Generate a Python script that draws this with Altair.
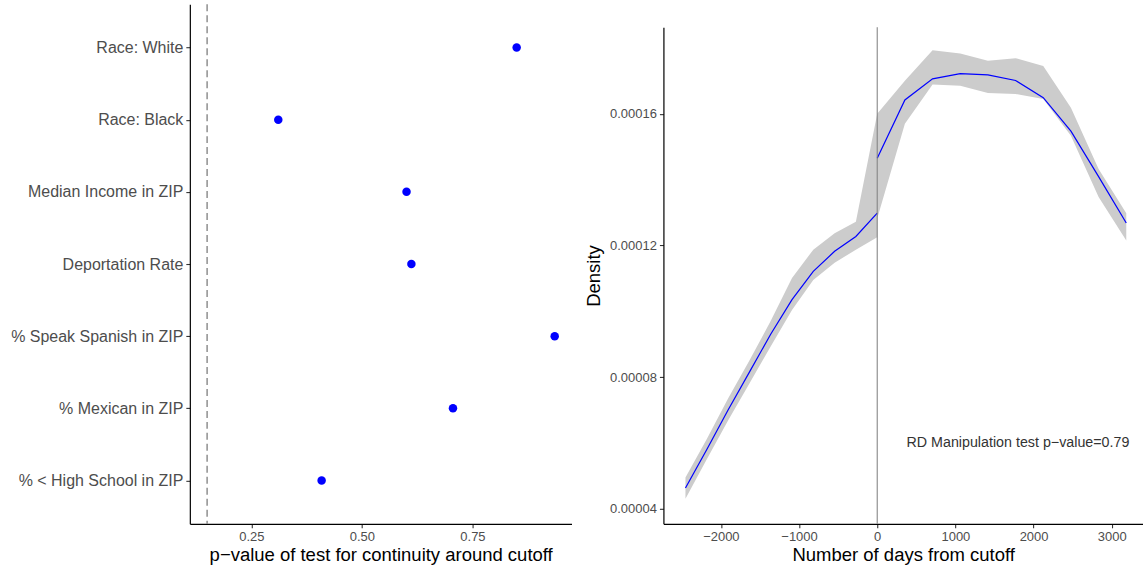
import altair as alt
import pandas as pd

# ---- Left panel data ----
labels = ["Race: White", "Race: Black", "Median Income in ZIP", "Deportation Rate",
          "% Speak Spanish in ZIP", "% Mexican in ZIP", "% < High School in ZIP"]
pvals = [0.850, 0.311, 0.601, 0.612, 0.936, 0.706, 0.409]
p_threshold = [0.15]
p_ticks = [0.25, 0.50, 0.75]

# ---- Right panel data ----
x_left = [-2453, -2180, -1908, -1635, -1363, -1090, -818, -545, -273, 0]
y_left = [4.63e-5, 5.80e-5, 7.00e-5, 8.15e-5, 9.30e-5, 1.035e-4, 1.121e-4, 1.182e-4, 1.227e-4, 1.298e-4]
lo_left = [4.30e-5, 5.50e-5, 6.68e-5, 7.80e-5, 8.93e-5, 1.004e-4, 1.095e-4, 1.147e-4, 1.187e-4, 1.225e-4]
hi_left = [4.95e-5, 6.12e-5, 7.35e-5, 8.50e-5, 9.70e-5, 1.101e-4, 1.187e-4, 1.237e-4, 1.272e-4, 1.600e-4]

x_right = [0, 354, 708, 1062, 1416, 1770, 2124, 2478, 2832, 3186]
y_right = [1.465e-4, 1.642e-4, 1.706e-4, 1.722e-4, 1.718e-4, 1.701e-4, 1.649e-4, 1.547e-4, 1.409e-4, 1.268e-4]
lo_right = [1.282e-4, 1.570e-4, 1.689e-4, 1.685e-4, 1.663e-4, 1.660e-4, 1.645e-4, 1.533e-4, 1.347e-4, 1.215e-4]
hi_right = [1.600e-4, 1.700e-4, 1.793e-4, 1.783e-4, 1.761e-4, 1.769e-4, 1.745e-4, 1.618e-4, 1.432e-4, 1.298e-4]

day_ticks = [-2000, -1000, 0, 1000, 2000, 3000]
density_ticks = [4e-5, 8e-5, 1.2e-4, 1.6e-4]
annotation = "RD Manipulation test p\u2212value=0.79"
ann_x, ann_y = [1800], [6.0e-5]

FONT = "Liberation Sans"

# ---- Left chart ----
left_df = pd.DataFrame({"label": labels, "p": pvals})
xs = alt.Scale(domain=[0.111, 0.974], nice=False, zero=False)

points = alt.Chart(left_df).mark_circle(color="#0000ff", size=72, opacity=1).encode(
    x=alt.X("p:Q", scale=xs,
            axis=alt.Axis(values=p_ticks, format=".2f",
                          title="p\u2212value of test for continuity around cutoff")),
    y=alt.Y("label:N", sort=labels, scale=alt.Scale(type="point", padding=0.6),
            axis=alt.Axis(title=None, labelFontSize=16, labelPadding=3)),
)
vline = alt.Chart(pd.DataFrame({"p": p_threshold})).mark_rule(
    color="#666666", strokeDash=[7, 4], strokeWidth=1.1
).encode(x=alt.X("p:Q", scale=xs))

left = alt.layer(vline, points).properties(width=382, height=520)

# ---- Right chart ----
band_df = pd.DataFrame({
    "x": x_left + x_right,
    "y": y_left + y_right,
    "lo": lo_left + lo_right,
    "hi": hi_left + hi_right,
    "side": ["left"] * len(x_left) + ["right"] * len(x_right),
})
xr = alt.Scale(domain=[-2735, 3400], nice=False, zero=False)
yr = alt.Scale(domain=[3.54e-5, 1.863e-4], nice=False, zero=False)

bands = alt.Chart(band_df).mark_area(color="#cccccc", opacity=1).encode(
    x=alt.X("x:Q", scale=xr,
            axis=alt.Axis(values=day_ticks, format="d", title="Number of days from cutoff")),
    y=alt.Y("lo:Q", scale=yr,
            axis=alt.Axis(values=density_ticks, format=".5f", title="Density", titlePadding=6)),
    y2="hi:Q",
    detail="side:N",
)
lines = alt.Chart(band_df).mark_line(color="#0000ff", strokeWidth=1.2).encode(
    x=alt.X("x:Q", scale=xr), y=alt.Y("y:Q", scale=yr), detail="side:N"
)
zero_rule = alt.Chart(pd.DataFrame({"x": [0]})).mark_rule(color="#7a7a7a", strokeWidth=1).encode(
    x=alt.X("x:Q", scale=xr)
)
ann = alt.Chart(pd.DataFrame({"x": ann_x, "y": ann_y, "t": [annotation]})).mark_text(
    font=FONT, fontSize=14.3, color="#333333", align="center", baseline="middle"
).encode(x=alt.X("x:Q", scale=xr), y=alt.Y("y:Q", scale=yr), text="t:N")

right = alt.layer(bands, lines, zero_rule, ann).properties(width=480, height=497)

spacer = alt.Chart(pd.DataFrame({"a": [0]})).mark_point(opacity=0, size=1).encode(
    x=alt.value(1), y=alt.value(0.5)
).properties(width=480, height=1)

right_col = alt.vconcat(spacer, right, spacing=21)

chart = alt.hconcat(left, right_col, spacing=13).properties(
    padding={"left": 10, "top": 3, "right": 0, "bottom": 0}
).configure_view(stroke=None).configure_axis(
    labelFont=FONT, labelFontSize=13, labelColor="#4d4d4d",
    titleFont=FONT, titleFontSize=18.5, titleColor="#000000", titleFontWeight="normal",
    domainColor="#000000", domainWidth=1.2, tickColor="#333333", tickSize=4, tickWidth=1.1,
    grid=False, labelPadding=3, titlePadding=2,
).configure_concat(spacing=13)

chart.save("out.html", embed_options={"renderer": "svg", "actions": False})
